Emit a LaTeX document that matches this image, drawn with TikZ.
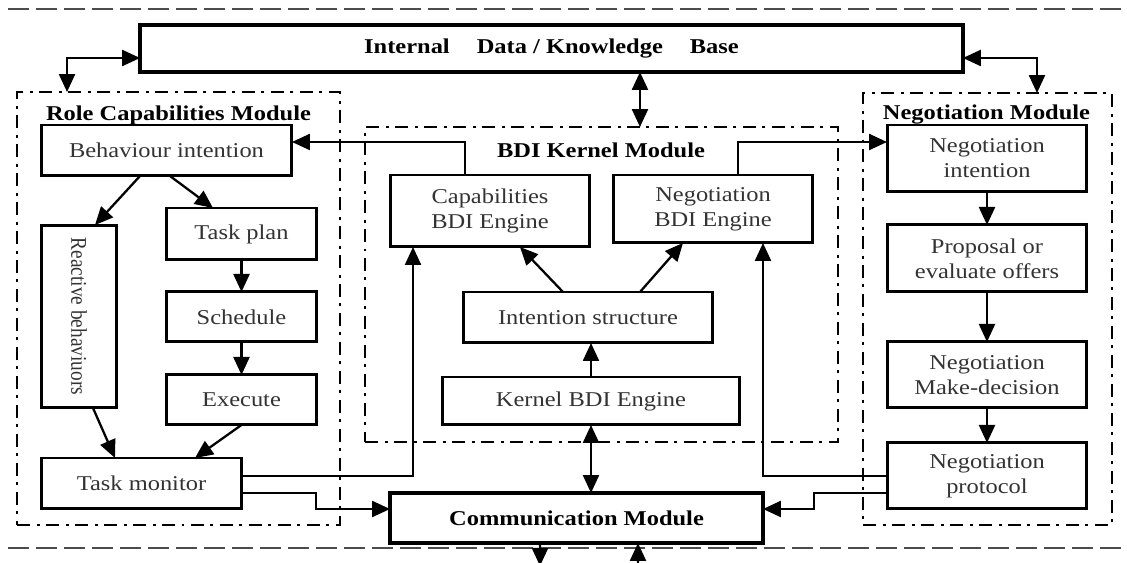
\documentclass[tikz,border=0pt]{standalone}
\usepackage{fontspec}
\setmainfont{Liberation Serif}[FakeStretch=1.16]
\newfontfamily\uprightserif{Liberation Serif}
\usetikzlibrary{arrows.meta, positioning}

\begin{document}
\begin{tikzpicture}[
        x=0.02cm, y=-0.02cm,
        font=\fontsize{12}{14.2}\selectfont,
        box/.style={rectangle, draw, line width=1.7pt, fill=white, text=black!80, align=center, inner sep=1pt, outer sep=0pt},
        bigbox/.style={box, line width=2.6pt, text=black, font=\fontsize{12}{14.2}\selectfont\bfseries},
        module/.style={rectangle, draw, line width=1.4pt, outer sep=0pt, dash pattern=on 0.26cm off 0.13cm on 0.06cm off 0.13cm},
        title/.style={font=\fontsize{12}{14.2}\selectfont\bfseries, inner sep=0pt},
        sepline/.style={draw=black!70, line width=0.8pt, dash pattern=on 0.42cm off 0.14cm},
        arrow/.style={draw, line width=1.3pt, -{Triangle[length=0.36cm, width=0.32cm]}},
        twoway/.style={draw, line width=1.3pt, {Triangle[length=0.36cm, width=0.32cm]}-{Triangle[length=0.36cm, width=0.32cm]}}
    ]
        \useasboundingbox (0,0) rectangle (1127,563);

        % Modules
        \node (rolemod) [module, minimum width=6.46cm, minimum height=8.66cm] at (178.5,308.5) {};
        \node (bdimod) [module, minimum width=9.46cm, minimum height=6.3cm] at (601.5,284.5) {};
        \node (negmod) [module, minimum width=4.98cm, minimum height=8.64cm] at (987.5,309) {};
        \draw [sepline] (8,9) -- (1127,9);
        \draw [sepline] (8,548) -- (1127,548);

        % Nodes
        \node (kb) [bigbox, minimum width=16.46cm, minimum height=0.94cm] at (551.5,48.5) {Internal\hspace{0.54cm}Data / Knowledge\hspace{0.54cm}Base};
        \node (comm) [bigbox, line width=2.3pt, minimum width=7.46cm, minimum height=1cm] at (576.5,518) {Communication Module};

        \node (behav) [box, minimum width=5.02cm, minimum height=1.02cm] at (166.5,150.5) {Behaviour intention};
        \node (react) [box, minimum width=1.52cm, minimum height=3.66cm] at (79,316.5) {\rotatebox{-90}{\scalebox{1}[1.16]{\uprightserif\fontsize{11}{13}\selectfont Reactive behaviuors}}};
        \node (taskplan) [box, minimum width=3.02cm, minimum height=1.04cm] at (241.5,234) {Task plan};
        \node (sched) [box, minimum width=3.02cm, minimum height=1cm, below=0.64cm of taskplan] {Schedule};
        \node (exec) [box, minimum width=3.02cm, minimum height=1cm, below=0.66cm of sched] {Execute};
        \node (monitor) [box, minimum width=4.02cm, minimum height=1.02cm] at (141.5,483.5) {Task monitor};

        \node (capeng) [box, minimum width=4cm, minimum height=1.44cm] at (490,211) {Capabilities\\BDI Engine};
        \node (negeng) [box, minimum width=4cm, minimum height=1.36cm] at (713,209) {Negotiation\\BDI Engine};
        \node (intent) [box, minimum width=5cm, minimum height=1.02cm] at (588,317.5) {Intention structure};
        \node (kernel) [box, minimum width=5.96cm, minimum height=0.96cm] at (591,401) {Kernel BDI Engine};

        \node (negint) [box, minimum width=4cm, minimum height=1.34cm] at (987,158.5) {Negotiation\\intention};
        \node (propose) [box, minimum width=4cm, minimum height=1.34cm, below=0.66cm of negint] {Proposal or\\evaluate offers};
        \node (decide) [box, minimum width=4cm, minimum height=1.32cm, below=1cm of propose] {Negotiation\\Make-decision};
        \node (protocol) [box, minimum width=4cm, minimum height=1.32cm, below=0.7cm of decide] {Negotiation\\protocol};

        % Labels
        \node (roletitle) [title] at (178.5,115) {Role Capabilities Module};
        \node (bdititle) [title] at (601,150) {BDI Kernel Module};
        \node (negtitle) [title] at (986.5,115) {Negotiation Module};

        % Connectors
        \coordinate (kbport) at ([xshift=1.77cm]kb.south);
        \draw [twoway] ([yshift=-0.19cm]kb.west) -| ([xshift=1cm]rolemod.north west);
        \draw [twoway] ([yshift=-0.19cm]kb.east) -| ([xshift=3.48cm]negmod.north west);
        \draw [twoway] (kbport) -- (kbport |- bdimod.north);

        \draw [arrow] ([xshift=-0.5cm]capeng.north) |- ([yshift=0.17cm]behav.east);
        \draw [arrow] ([xshift=0.5cm]negeng.north) |- ([yshift=0.33cm]negint.west);

        \draw [arrow] ([xshift=-0.53cm]behav.south) -- ([xshift=0.32cm]react.north);
        \draw [arrow] ([xshift=0.07cm]behav.south) -- ([xshift=-0.57cm]taskplan.north);
        \draw [arrow] (taskplan) -- (sched);
        \draw [arrow] (sched) -- (exec);
        \draw [arrow] ([xshift=0.28cm]react.south) -- ([xshift=-0.53cm]monitor.north);
        \draw [arrow] (exec.south) -- ([xshift=1.07cm]monitor.north);
        \draw [arrow] ([yshift=0.15cm]monitor.east) -| ([xshift=-1.54cm]capeng.south);
        \draw [arrow] ([yshift=-0.19cm]monitor.east) -- ++(74,0) |- ([yshift=0.18cm]comm.west);

        \draw [arrow] ([xshift=-0.5cm]intent.north) -- ([xshift=0.6cm]capeng.south);
        \draw [arrow] ([xshift=1.04cm]intent.north) -- ([xshift=-0.6cm]negeng.south);
        \draw [arrow] (kernel.north) -- (kernel.north |- intent.south);
        \draw [twoway] (kernel.south) -- (kernel.south |- comm.north);

        \draw [arrow] (negint) -- (propose);
        \draw [arrow] (propose) -- (decide);
        \draw [arrow] (decide) -- (protocol);
        \draw [arrow] (protocol.west) -| ([xshift=1cm]negeng.south);
        \draw [arrow] ([yshift=-0.34cm]protocol.west) -- ++(-73,0) |- ([yshift=0.18cm]comm.east);

        \coordinate (busout) at (540,566);
        \coordinate (busin) at (638,585);
        \draw [arrow] ([xshift=-0.73cm]comm.south) -- (busout);
        \draw [arrow] (busin) -- ([xshift=1.23cm]comm.south);
    \end{tikzpicture}
\end{document}
